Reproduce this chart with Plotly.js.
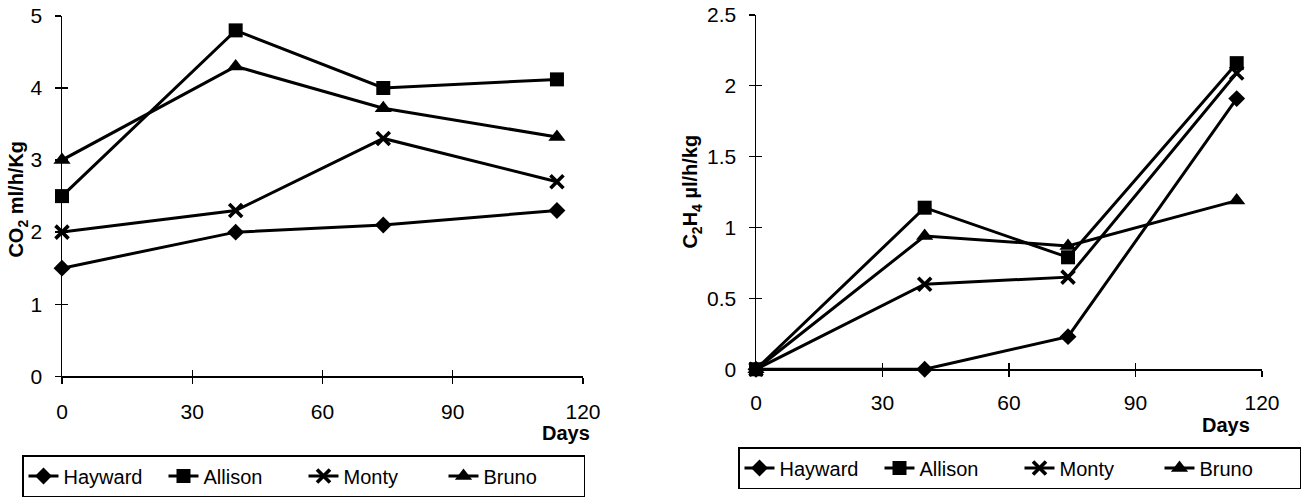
<!DOCTYPE html>
<html>
<head>
<meta charset="utf-8">
<script src="https://cdn.plot.ly/plotly-3.0.1.min.js"></script>
<style>html,body{margin:0;padding:0;background:#fff;}#chart{width:1316px;height:497px;}</style>
</head>
<body>
<div id="chart"></div>
<script>
// ---- data ----
const days = [0, 40, 74, 114];
const cultivars = ["Hayward", "Allison", "Monty", "Bruno"];
const co2Hayward = [1.5, 2.0, 2.1, 2.3];
const co2Allison = [2.5, 4.8, 4.0, 4.12];
const co2Monty = [2.0, 2.3, 3.3, 2.7];
const co2Bruno = [3.0, 4.3, 3.72, 3.32];
const ethHayward = [0, 0, 0.23, 1.91];
const ethAllison = [0, 1.14, 0.79, 2.16];
const ethMonty = [0, 0.6, 0.65, 2.09];
const ethBruno = [0, 0.94, 0.87, 1.19];
const xTicks = [0, 30, 60, 90, 120];
const co2Ticks = [0, 1, 2, 3, 4, 5];
const ethTicks = [0, 0.5, 1, 1.5, 2, 2.5];

// ---- styles ----
const FONT = "Arial, 'Liberation Sans', sans-serif";
const symbols = {
  Hayward: {symbol: "diamond", size: 13},
  Allison: {symbol: "square", size: 14},
  Monty: {symbol: "x-thin", size: 13},
  Bruno: {symbol: "triangle-up", size: 15}
};
function mk(name, y, xa, ya, leg) {
  const s = symbols[name];
  return {
    type: "scatter", mode: "lines+markers", name: name, x: days, y: y,
    xaxis: xa, yaxis: ya, legend: leg, cliponaxis: false,
    line: {color: "#000", width: 3},
    marker: {symbol: s.symbol, size: s.size, color: "#000",
             line: {color: "#000", width: name === "Monty" ? 3.6 : 0}}
  };
}
const co2Series = [co2Hayward, co2Allison, co2Monty, co2Bruno];
const ethSeries = [ethHayward, ethAllison, ethMonty, ethBruno];
const traces = [];
cultivars.forEach((c, i) => traces.push(mk(c, co2Series[i], "x", "y", "legend")));
cultivars.forEach((c, i) => traces.push(mk(c, ethSeries[i], "x2", "y2", "legend2")));
// empty helper traces so the tick-crossing overlay axes get drawn
[["x3", "y3"], ["x4", "y4"]].forEach(([xa, ya]) =>
  traces.push({type: "scatter", mode: "markers", x: [], y: [], xaxis: xa, yaxis: ya,
               showlegend: false, hoverinfo: "skip"}));

const W = 1316, H = 497;
const px = v => v / W, py = v => 1 - v / H;

function axis(extra) {
  return Object.assign({
    showgrid: false, zeroline: false, showline: true, linecolor: "#000", linewidth: 1.5,
    ticks: "outside", ticklen: 6, tickwidth: 1.3, tickcolor: "#000",
    tickfont: {family: FONT, size: 21, color: "#000"}, fixedrange: true
  }, extra);
}
function crossAxis(extra) {
  return Object.assign({
    showgrid: false, zeroline: false, showline: false, showticklabels: false,
    ticks: "inside", ticklen: 6, tickwidth: 1.3, tickcolor: "#000", fixedrange: true
  }, extra);
}
const dxL = [px(62), px(583)], dyL = [py(377), py(16)];
const dxR = [px(756), px(1262)], dyR = [py(370), py(15)];

const layout = {
  width: W, height: H, margin: {l: 0, r: 0, t: 0, b: 0},
  paper_bgcolor: "#fff", plot_bgcolor: "rgba(0,0,0,0)",
  font: {family: FONT, color: "#000"},
  xaxis: axis({domain: dxL, range: [0, 120], tickvals: xTicks, anchor: "y", ticklabelstandoff: 10}),
  yaxis: axis({domain: dyL, range: [0, 5], tickvals: co2Ticks, anchor: "x", ticklabelstandoff: 8}),
  xaxis2: axis({domain: dxR, range: [0, 120], tickvals: xTicks, anchor: "y2", ticklabelstandoff: 8}),
  yaxis2: axis({domain: dyR, range: [0, 2.5], tickvals: ethTicks, anchor: "x2", ticklabelstandoff: 8}),
  xaxis3: crossAxis({overlaying: "x", anchor: "y3", domain: dxL, range: [0, 120], tickvals: xTicks}),
  yaxis3: crossAxis({overlaying: "y", anchor: "x3", domain: dyL, range: [0, 5], tickvals: co2Ticks}),
  xaxis4: crossAxis({overlaying: "x2", anchor: "y4", domain: dxR, range: [0, 120], tickvals: xTicks}),
  yaxis4: crossAxis({overlaying: "y2", anchor: "x4", domain: dyR, range: [0, 2.5], tickvals: ethTicks}),
  legend: {orientation: "h", x: px(22), y: py(456), xanchor: "left", yanchor: "top",
           bordercolor: "#000", borderwidth: 1.5, bgcolor: "#fff", entrywidth: 95,
           font: {family: FONT, size: 20, color: "#000"}, traceorder: "normal"},
  legend2: {orientation: "h", x: px(738), y: py(447), xanchor: "left", yanchor: "top",
           bordercolor: "#000", borderwidth: 1.5, bgcolor: "#fff", entrywidth: 95,
           font: {family: FONT, size: 20, color: "#000"}, traceorder: "normal"},
  annotations: [
    {text: "<b>Days</b>", xref: "paper", yref: "paper", x: px(566), y: py(434), showarrow: false,
     xanchor: "center", yanchor: "middle", font: {family: FONT, size: 20, color: "#000"}},
    {text: "<b>Days</b>", xref: "paper", yref: "paper", x: px(1226), y: py(426), showarrow: false,
     xanchor: "center", yanchor: "middle", font: {family: FONT, size: 20, color: "#000"}},
    {text: "<b>CO<sub>2</sub> ml/h/Kg</b>", xref: "paper", yref: "paper", x: px(18), y: py(200),
     xanchor: "center", yanchor: "middle",
     textangle: -90, showarrow: false, font: {family: FONT, size: 20, color: "#000"}},
    {text: "<b>C<sub>2</sub>H<sub>4</sub> µl/h/kg</b>", xref: "paper", yref: "paper", x: px(692), y: py(192),
     xanchor: "center", yanchor: "middle",
     textangle: -90, showarrow: false, font: {family: FONT, size: 20, color: "#000"}}
  ],
  showlegend: true
};
Plotly.newPlot("chart", traces, layout, {displayModeBar: false, staticPlot: true});
</script>
</body>
</html>
